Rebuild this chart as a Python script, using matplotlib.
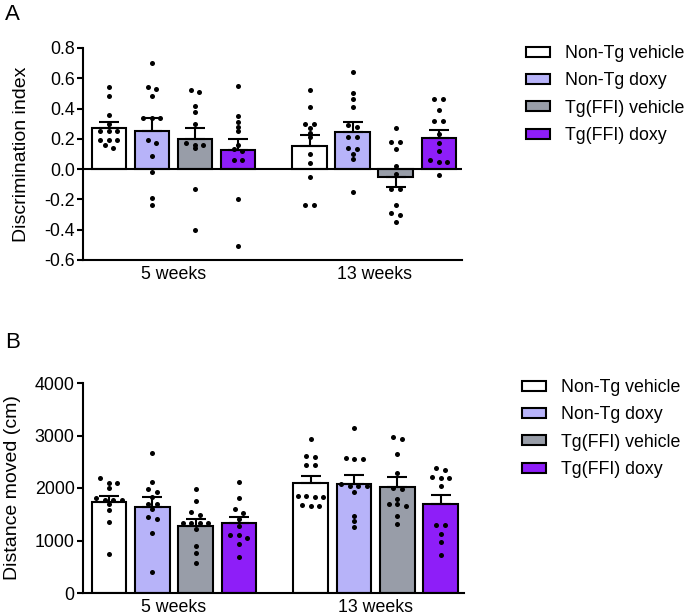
import numpy as np
import matplotlib
matplotlib.use('Agg')
import matplotlib.pyplot as plt
from matplotlib.patches import Patch

plt.rcParams['font.family'] = ['Liberation Sans', 'DejaVu Sans']

# Data
groups = ['5 weeks', '13 weeks']
labels = ['Non-Tg vehicle', 'Non-Tg doxy', 'Tg(FFI) vehicle', 'Tg(FFI) doxy']
colors = ['#ffffff', '#b7b3f9', '#989da8', '#8e1ef8']

# A: discrimination index, mean and SEM per group / condition
di_mean = [[0.27, 0.25, 0.20, 0.125], [0.152, 0.242, -0.055, 0.203]]
di_sem = [[0.04, 0.09, 0.075, 0.075], [0.073, 0.068, 0.065, 0.055]]

di_5wk = [
    [0.54, 0.48, 0.36, 0.30, 0.25, 0.25, 0.25, 0.19, 0.19, 0.19, 0.16, 0.14],
    [0.70, 0.54, 0.53, 0.48, 0.34, 0.34, 0.34, 0.19, 0.17, 0.09, -0.02, -0.19, -0.24],
    [0.52, 0.51, 0.42, 0.38, 0.30, 0.17, 0.16, 0.16, 0.14, -0.13, -0.40],
    [0.55, 0.35, 0.31, 0.28, 0.25, 0.16, 0.13, 0.12, 0.06, 0.06, -0.20, -0.51],
]
di_13wk = [
    [0.52, 0.41, 0.30, 0.30, 0.27, 0.24, 0.21, 0.10, 0.04, -0.05, -0.24, -0.24],
    [0.64, 0.50, 0.46, 0.41, 0.29, 0.28, 0.21, 0.21, 0.14, 0.13, 0.10, 0.07, -0.15],
    [0.27, 0.18, 0.18, 0.13, 0.02, -0.03, -0.13, -0.13, -0.24, -0.29, -0.30, -0.35],
    [0.46, 0.46, 0.39, 0.32, 0.32, 0.23, 0.17, 0.12, 0.06, 0.05, 0.05, -0.04],
]

# B: distance moved (cm)
dist_mean = [[1728, 1644, 1282, 1327], [2089, 2076, 2019, 1695]]
dist_sem = [[125, 179, 122, 127], [145, 165, 184, 178]]

dist_5wk = [
    [2185, 2100, 2100, 1995, 1810, 1770, 1770, 1770, 1695, 1580, 1360, 740],
    [2670, 2110, 1980, 1920, 1820, 1700, 1690, 1600, 1455, 1415, 1150, 400],
    [1975, 1755, 1535, 1485, 1340, 1340, 1340, 1340, 1215, 895, 770, 580],
    [2115, 1815, 1595, 1520, 1405, 1275, 1100, 1100, 1055, 925, 680],
]
dist_13wk = [
    [2935, 2615, 2595, 2430, 2430, 1850, 1845, 1825, 1820, 1680, 1665, 1660],
    [3135, 2565, 2555, 2550, 2070, 2040, 2040, 2035, 1920, 1465, 1370, 1265],
    [2980, 2935, 2640, 2280, 1995, 1990, 1785, 1695, 1695, 1655, 1465, 1310],
    [2375, 2345, 2210, 2195, 2195, 2040, 1295, 1295, 1125, 980, 725],
]

GAP = 0.66


def swarm_offsets(vals, px_y, row_px=4.5, step_px=8.5):
    # put dots with nearly the same value side by side, centred
    vals = np.asarray(vals, dtype=float)
    order = np.argsort(vals)[::-1]
    rows = []
    for i in order:
        if rows and abs(vals[rows[-1][0]] - vals[i]) * px_y < row_px:
            rows[-1].append(i)
        else:
            rows.append([i])
    off = np.zeros(len(vals))
    for r in rows:
        n = len(r)
        for k, i in enumerate(r):
            off[i] = (k - (n - 1) / 2) * step_px
    return off


def panel(ax, means, sems, points, ylim, yticks, ylabel, fmt):
    ax.set_xlim(-0.6, 8.2)
    ax.set_ylim(*ylim)
    o = ax.transData.transform([(0, 0), (1, 1)])
    px_x, px_y = o[1] - o[0]
    centers = []
    for g in range(2):
        xs = np.arange(4) + g * (4 + GAP)
        centers.append(xs.mean())
        for i in range(4):
            m, s = means[g][i], sems[g][i]
            ax.bar(xs[i], m, width=0.8, color=colors[i], edgecolor='black',
                   linewidth=1.5, zorder=2)
            yerr = [[s if m < 0 else 0], [s if m >= 0 else 0]]
            ax.errorbar(xs[i], m, yerr=yerr, fmt='none', ecolor='black',
                        elinewidth=1.5, capsize=7, capthick=1.5, zorder=3)
            v = points[g][i]
            off = swarm_offsets(v, px_y) / px_x
            ax.scatter(xs[i] + off, v, s=13, color='black', zorder=4,
                       linewidths=0)
    for sp in ['top', 'right']:
        ax.spines[sp].set_visible(False)
    for sp in ['left', 'bottom']:
        ax.spines[sp].set_linewidth(1.5)
    ax.set_yticks(yticks)
    ax.set_yticklabels([fmt(t) for t in yticks])
    ax.set_xticks(centers)
    ax.set_xticklabels(groups)
    ax.tick_params(axis='x', length=0, pad=4, labelsize=12.8)
    ax.tick_params(axis='y', length=4, width=1.5, labelsize=12.8, pad=2)
    ax.set_ylabel(ylabel, fontsize=14, labelpad=10)


fig = plt.figure(figsize=(6.85, 6.16), dpi=100)
axA = fig.add_axes([83 / 685, 1 - 260 / 616, 379 / 685, 212 / 616])
axB = fig.add_axes([83 / 685, 1 - 593 / 616, 381 / 685, 210 / 616])

panel(axA, di_mean, di_sem, [di_5wk, di_13wk], (-0.6, 0.8),
      np.round(np.arange(-0.6, 0.81, 0.2), 1), 'Discrimination index',
      lambda t: '%.1f' % t)
axA.axhline(0, color='black', linewidth=1.5, zorder=2.5)

panel(axB, dist_mean, dist_sem, [dist_5wk, dist_13wk], (0, 4000),
      [0, 1000, 2000, 3000, 4000], 'Distance moved (cm)',
      lambda t: '%d' % t)

handles = [Patch(facecolor=c, edgecolor='black', linewidth=1.5) for c in colors]
for ax, top, x0 in [(axA, 1 - 45 / 616, 526 / 685), (axB, 1 - 379 / 616, 522 / 685)]:
    ax.legend(handles, labels, loc='upper left', bbox_to_anchor=(x0, top),
              bbox_transform=fig.transFigure, frameon=False, fontsize=12.8,
              handlelength=1.35, handleheight=0.5, handletextpad=0.85,
              labelspacing=0.58, borderpad=0, borderaxespad=0)

fig.text(5 / 685, 1 - 4 / 616, 'A', fontsize=16, va='top', ha='left')
fig.text(5 / 685, 1 - 332 / 616, 'B', fontsize=16, va='top', ha='left')

fig.savefig('out.png', dpi=100)
